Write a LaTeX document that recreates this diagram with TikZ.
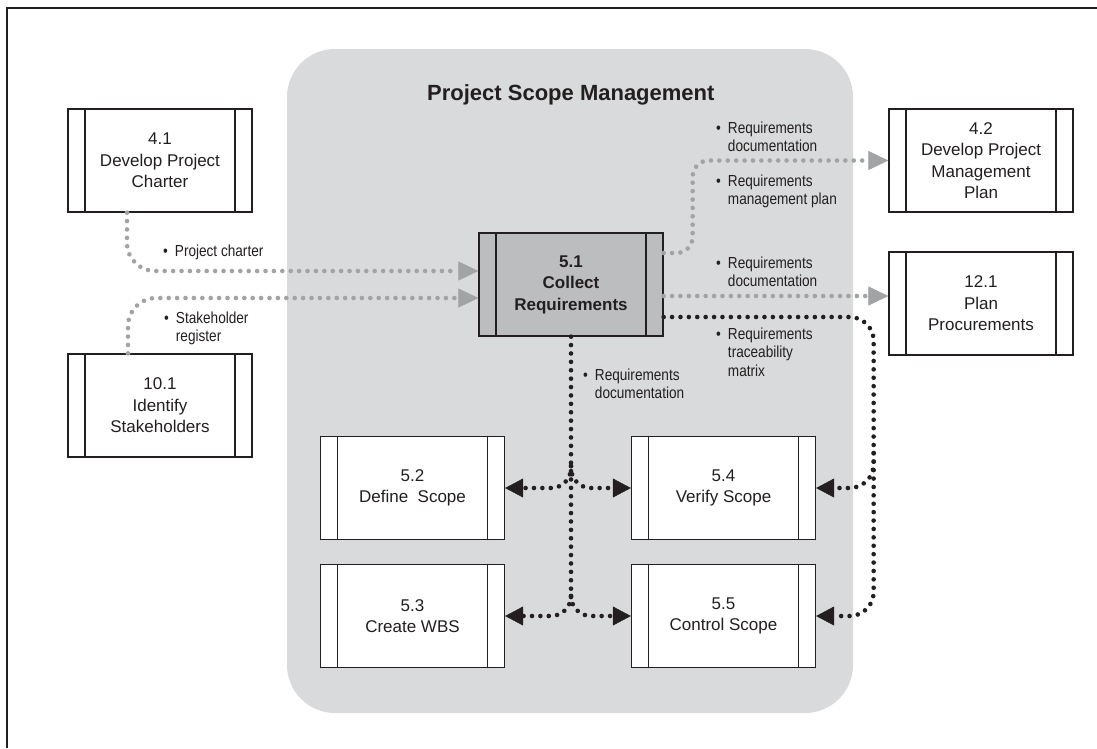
\documentclass[tikz,border=0pt]{standalone}
\usepackage{fontspec}
\setmainfont{Liberation Sans}
\newfontfamily\narrowfont[FakeStretch=0.85]{Liberation Sans}
\usetikzlibrary{calc, arrows.meta}
\definecolor{inkdark}{HTML}{231F20}
\definecolor{scopebg}{HTML}{D9DADB}
\definecolor{collectbg}{HTML}{BCBDBF}
\definecolor{flowgray}{HTML}{A2A3A5}

\newcommand{\boxfont}{\fontsize{17}{21.5}\selectfont}
\newcommand{\lblfont}{\narrowfont\fontsize{16}{18.5}\selectfont}
\newcommand{\titlefont}{\fontsize{22}{26}\selectfont\bfseries}
\newcommand{\outlbl}[1]{\textbullet\hspace{7pt}\begin{tabular}[t]{@{}l@{}}#1\end{tabular}}

\begin{document}
\begin{tikzpicture}[
    x=1pt, y=-1pt,
    procbox/.style={draw=inkdark, line width=1.3pt, fill=white, minimum width=184pt,
        minimum height=103pt, inner sep=0pt, align=center, text=inkdark, font=\boxfont,
        path picture={
            \draw[inkdark, line width=1.3pt]
                ([xshift=17pt]path picture bounding box.north west) -- ([xshift=17pt]path picture bounding box.south west)
                ([xshift=-17pt]path picture bounding box.north east) -- ([xshift=-17pt]path picture bounding box.south east);
        }},
    mainbox/.style={procbox, fill=collectbg, font=\boxfont\bfseries},
    lbl/.style={anchor=base west, inner sep=0pt, text=inkdark, font=\lblfont},
    flow/.style={line width=4.6pt, line cap=round, dash pattern=on 0pt off 8.4pt},
    grayflow/.style={flow, flowgray, -{Triangle[length=20pt, width=19pt, line width=0.5pt]}},
    blackflow/.style={flow, inkdark, -{Triangle[length=18pt, width=19pt, line width=0.5pt]}}
]

\useasboundingbox (0,0) rectangle (1097,748);

% Frame
\draw[inkdark, line width=2pt] (7,748) -- (7,8) -- (1097,8);

% Scope Background
\fill[scopebg, rounded corners=48pt] (287,49) rectangle (853,713);
\node[anchor=base west, inner sep=0pt, font=\titlefont, text=inkdark] (title) at (427,100) {Project Scope Management};

% Outside Processes
\node[procbox] (p41) at (160,160.5) {4.1\\Develop Project\\Charter};
\node[procbox] (p101) at (160,405.5) {10.1\\Identify\\Stakeholders};
\node[procbox] (p42) at (981,160.5) {4.2\\Develop Project\\Management\\Plan};
\node[procbox] (p121) at (981,303.5) {12.1\\Plan\\Procurements};

% Scope Processes
\node[mainbox] (p51) at (571,284.5) {5.1\\Collect\\Requirements};
\node[procbox] (p52) at (412.5,488) {5.2\\Define\ \ Scope};
\node[procbox] (p54) at (723.5,488) {5.4\\Verify Scope};
\node[procbox] (p53) at (412.5,616) {5.3\\Create WBS};
\node[procbox] (p55) at (723.5,616) {5.5\\Control Scope};

% Inputs
\draw[grayflow, rounded corners=28pt] ([xshift=-33pt]p41.south) |- ([yshift=13.5pt]p51.west);
\draw[grayflow, rounded corners=28pt] ([xshift=-32pt]p101.north) |- ([yshift=-13.5pt]p51.west);
\node[lbl] (lblCharter) at (163,256) {\outlbl{Project charter}};
\node[lbl] (lblRegister) at (164,323) {\outlbl{Stakeholder\\register}};

% Outputs to other areas
\draw[grayflow, rounded corners=16pt] ([yshift=31.5pt]p51.east) -- ++(29pt,0pt) |- (p42.west);
\coordinate (docOut) at ([yshift=-11.5pt]p51.east);
\draw[grayflow] (docOut) -- (docOut -| p121.west);
\node[lbl] (lblDocA) at (716,133) {\outlbl{Requirements\\documentation}};
\node[lbl] (lblPlan) at (716,186) {\outlbl{Requirements\\management plan}};
\node[lbl] (lblDocB) at (716,268) {\outlbl{Requirements\\documentation}};

% Traceability matrix
\coordinate (traceOut) at ([yshift=-32.5pt]p51.east);
\coordinate (rTrunk) at ($(traceOut)+(210pt,0pt)$);
\draw[blackflow, rounded corners=24pt] (traceOut) -- (rTrunk) |- (p55.east);
\draw[blackflow, rounded corners=24pt] ($(rTrunk |- p54.east)+(0pt,35pt)$) |- (p54.east);
\node[lbl] (lblTrace) at (716,339) {\outlbl{Requirements\\traceability\\matrix}};

% Documentation down
\coordinate (dTrunk) at (p51.south |- p53.east);
\draw[flow, inkdark] (p51.south) -- ($(dTrunk)+(0pt,12pt)$);
\draw[blackflow, rounded corners=20pt] ($(p51.south |- p52.east)+(0pt,22pt)$) |- (p52.east);
\draw[blackflow, rounded corners=20pt] ($(p51.south |- p54.west)+(0pt,22pt)$) |- (p54.west);
\draw[blackflow, rounded corners=20pt] ($(dTrunk)+(0pt,20pt)$) |- (p53.east);
\draw[blackflow, rounded corners=20pt] ($(dTrunk)+(0pt,20pt)$) |- (p55.west);
\node[lbl] (lblDocC) at (583,380) {\outlbl{Requirements\\documentation}};

\end{tikzpicture}
\end{document}
